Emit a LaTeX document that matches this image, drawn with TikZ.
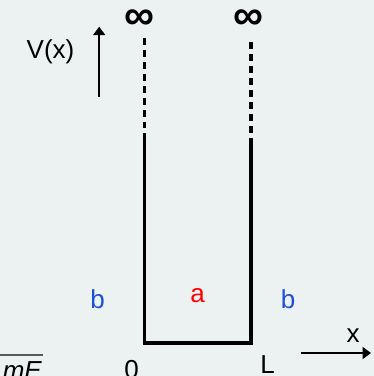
\documentclass[tikz,border=0pt]{standalone}
\usepackage{fontspec}
\setmainfont{Liberation Sans}
\usetikzlibrary{arrows.meta}
\definecolor{bgc}{HTML}{ECF1F1}
\definecolor{bblue}{HTML}{1F4FD8}
\definecolor{ared}{HTML}{FF0000}
\begin{document}
\begin{tikzpicture}[x=1pt,y=-1pt,
  lbl/.style={font=\fontsize{26}{30}\selectfont, inner sep=0pt},
  inf/.style={font=\fontsize{42}{46}\selectfont\bfseries, inner sep=0pt, text height=24pt, text depth=0pt},
  wall/.style={line width=3.7pt},
  dwall/.style={line width=3.7pt, dash pattern=on 7pt off 5pt},
  axis/.style={line width=2.5pt, -{Triangle[length=8.5pt,width=12pt]}}]
\fill[bgc] (0,0) rectangle (374,376);
\useasboundingbox (0,0) rectangle (374,376);
% infinity labels
\node[inf, anchor=base] (infL) at (139.3,29.8) {∞};
\node[inf, anchor=base] (infR) at (248.3,29.8) {∞};
% wall coordinates
\coordinate (ldt) at (144.5,38);
\coordinate (ldb) at (144.5,128);
\coordinate (lst) at (144.5,133);
\coordinate (lb) at (144.5,343);
\coordinate (rdt) at (251,42);
\coordinate (rdb) at (251,133);
\coordinate (rst) at (251,138);
\coordinate (rb) at (251,343);
\draw[dwall] (ldt) -- (ldb);
\draw[dwall] (rdt) -- (rdb);
\draw[wall, line join=miter] (lst) -- (lb) -- (rb) -- (rst);
% V(x) axis
\node[lbl, anchor=base] (vx) at (50.5,58) {V(x)};
\coordinate (va) at (99.2,97);
\coordinate (vb) at (99.2,26.7);
\draw[axis] (va) -- (vb);
% x axis
\coordinate (xa) at (300.7,353);
\coordinate (xb) at (371,353);
\draw[axis] (xa) -- (xb);
\node[lbl, anchor=base] (xl) at (353,342.7) {x};
% region labels
\node[lbl, anchor=base, text=bblue] (bL) at (97.5,308) {b};
\node[lbl, anchor=base, text=ared] (aM) at (197.5,302.5) {a};
\node[lbl, anchor=base, text=bblue] (bR) at (288,308) {b};
% tick labels
\node[lbl, anchor=base] (zero) at (131.5,378.6) {0};
\node[lbl, anchor=base] (ell) at (267.5,373.3) {L};
% cut-off formula
\node[lbl, anchor=base east, font=\fontsize{26}{30}\selectfont\itshape] (me) at (42,379) {mE};
\coordinate (ova) at (0,355);
\coordinate (ovb) at (43,355);
\draw[line width=1.3pt, black!65] (ova) -- (ovb);
\end{tikzpicture}
\end{document}
